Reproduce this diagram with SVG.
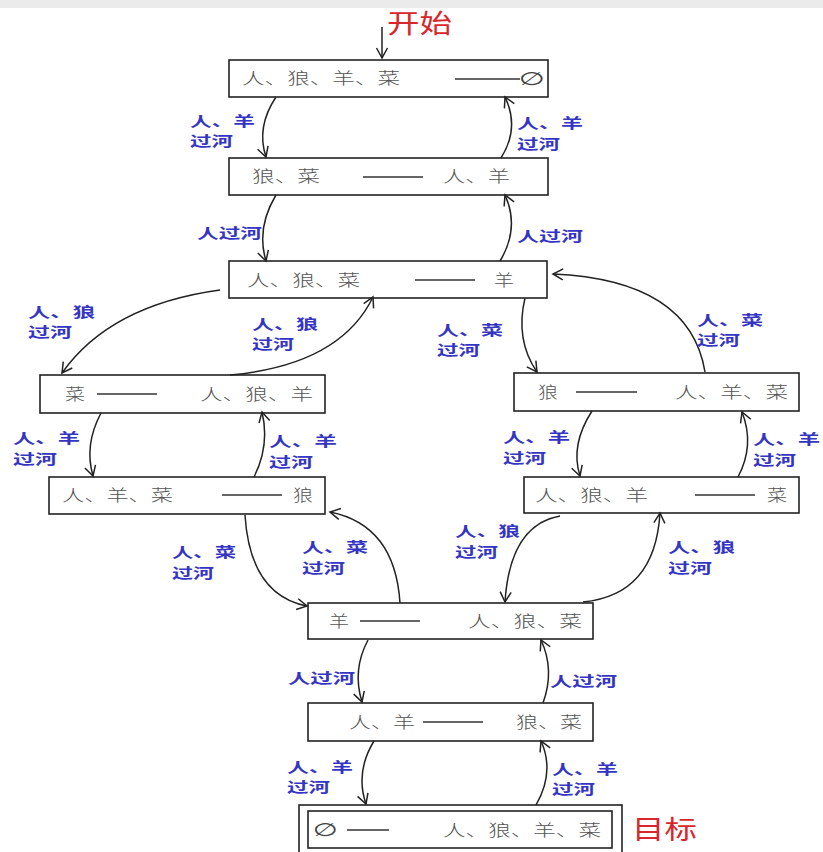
<svg xmlns="http://www.w3.org/2000/svg" width="823" height="852" viewBox="0 0 823 852">
<style>
.box{fill:#fff;stroke:#222;stroke-width:1.6}
.nt{font-family:"Noto Sans CJK SC","Noto Sans",sans-serif;font-size:16px;fill:#555;font-weight:300}
.sym{font-family:"DejaVu Sans","Noto Sans",sans-serif;font-size:18px;fill:#444}
.dash{stroke:#333;stroke-width:1.3}
.lb{font-family:"Noto Sans CJK SC","Noto Sans",sans-serif;font-size:14px;fill:#3535c4;font-weight:700}
.red{font-family:"Noto Sans CJK SC","Noto Sans",sans-serif;font-size:26px;fill:#d9262b}
.c{fill:none;stroke:#222;stroke-width:1.5;marker-end:url(#ah)}
</style>
<defs>
<marker id="ah" markerUnits="userSpaceOnUse" markerWidth="16" markerHeight="16" refX="11" refY="7" orient="auto">
<path d="M1,1.5 L11,7 L1,12.5" fill="none" stroke="#222" stroke-width="1.5"/>
</marker>
</defs>
<rect x="0" y="0" width="823" height="8" fill="#e2e2e2" opacity="0.7"/>
<text class="red" x="387" y="33" textLength="65" lengthAdjust="spacingAndGlyphs">开始</text>

<g id="n1">
<rect class="box" x="229" y="60" width="319" height="37"/>
<text class="nt" x="242" y="84" textLength="158" lengthAdjust="spacingAndGlyphs">人、狼、羊、菜</text>
<line class="dash" x1="455" y1="79" x2="520" y2="79"/>
<text class="sym" x="519" y="85" textLength="26" lengthAdjust="spacingAndGlyphs">∅</text>
</g>
<g id="n2">
<rect class="box" x="229" y="158" width="319" height="37"/>
<text class="nt" x="252" y="182" textLength="68" lengthAdjust="spacingAndGlyphs">狼、菜</text>
<line class="dash" x1="363" y1="177" x2="423" y2="177"/>
<text class="nt" x="443" y="182" textLength="67" lengthAdjust="spacingAndGlyphs">人、羊</text>
</g>
<g id="n3">
<rect class="box" x="229" y="261" width="318" height="37"/>
<text class="nt" x="247" y="286" textLength="113" lengthAdjust="spacingAndGlyphs">人、狼、菜</text>
<line class="dash" x1="415" y1="280" x2="475" y2="280"/>
<text class="nt" x="494" y="286" textLength="20" lengthAdjust="spacingAndGlyphs">羊</text>
</g>
<g id="n4">
<rect class="box" x="40" y="375" width="285" height="38"/>
<text class="nt" x="65" y="400" textLength="20" lengthAdjust="spacingAndGlyphs">菜</text>
<line class="dash" x1="97" y1="394" x2="157" y2="394"/>
<text class="nt" x="200" y="400" textLength="113" lengthAdjust="spacingAndGlyphs">人、狼、羊</text>
</g>
<g id="n5">
<rect class="box" x="514" y="373" width="285" height="38"/>
<text class="nt" x="538" y="398" textLength="20" lengthAdjust="spacingAndGlyphs">狼</text>
<line class="dash" x1="576" y1="392" x2="637" y2="392"/>
<text class="nt" x="675" y="398" textLength="113" lengthAdjust="spacingAndGlyphs">人、羊、菜</text>
</g>
<g id="n6">
<rect class="box" x="49" y="477" width="276" height="37"/>
<text class="nt" x="62" y="501" textLength="111" lengthAdjust="spacingAndGlyphs">人、羊、菜</text>
<line class="dash" x1="222" y1="495" x2="282" y2="495"/>
<text class="nt" x="293" y="501" textLength="20" lengthAdjust="spacingAndGlyphs">狼</text>
</g>
<g id="n7">
<rect class="box" x="524" y="477" width="275" height="36"/>
<text class="nt" x="535" y="501" textLength="113" lengthAdjust="spacingAndGlyphs">人、狼、羊</text>
<line class="dash" x1="695" y1="495" x2="755" y2="495"/>
<text class="nt" x="767" y="501" textLength="20" lengthAdjust="spacingAndGlyphs">菜</text>
</g>
<g id="n8">
<rect class="box" x="308" y="603" width="285" height="36"/>
<text class="nt" x="329" y="627" textLength="20" lengthAdjust="spacingAndGlyphs">羊</text>
<line class="dash" x1="360" y1="621" x2="420" y2="621"/>
<text class="nt" x="468" y="627" textLength="114" lengthAdjust="spacingAndGlyphs">人、狼、菜</text>
</g>
<g id="n9">
<rect class="box" x="308" y="703" width="285" height="38"/>
<text class="nt" x="349" y="728" textLength="66" lengthAdjust="spacingAndGlyphs">人、羊</text>
<line class="dash" x1="423" y1="722" x2="483" y2="722"/>
<text class="nt" x="516" y="728" textLength="66" lengthAdjust="spacingAndGlyphs">狼、菜</text>
</g>
<g id="n10">
<rect class="box" x="299" y="805" width="323" height="52" stroke-width="2"/>
<rect class="box" x="308" y="811" width="304" height="37"/>
<text class="sym" x="313" y="836" textLength="25" lengthAdjust="spacingAndGlyphs">∅</text>
<line class="dash" x1="347" y1="830" x2="389" y2="830"/>
<text class="nt" x="443" y="836" textLength="158" lengthAdjust="spacingAndGlyphs">人、狼、羊、菜</text>
</g>
<text class="red" x="632" y="839" textLength="65" lengthAdjust="spacingAndGlyphs">目标</text>

<g id="connectors">
<path class="c" d="M382,27 L382,58"/>
<path class="c" d="M276,97 Q256,127 266,157"/>
<path class="c" d="M501,158 Q520,128 505,97"/>
<path class="c" d="M276,195 Q256,228 266,261"/>
<path class="c" d="M500,261 Q520,228 505,195"/>
<path class="c" d="M220,290 Q110,305 62,373"/>
<path class="c" d="M230,375 Q340,365 373,297"/>
<path class="c" d="M525,298 Q515,340 537,372"/>
<path class="c" d="M705,372 Q690,280 553,274"/>
<path class="c" d="M101,413 Q84,445 93,476"/>
<path class="c" d="M254,477 Q270,445 262,412"/>
<path class="c" d="M592,411 Q570,445 580,476"/>
<path class="c" d="M738,477 Q755,445 742,412"/>
<path class="c" d="M245,515 Q250,595 307,606"/>
<path class="c" d="M400,603 Q395,525 330,512"/>
<path class="c" d="M560,516 Q510,525 505,602"/>
<path class="c" d="M583,602 Q655,595 660,513"/>
<path class="c" d="M368,640 Q352,670 362,702"/>
<path class="c" d="M543,703 Q555,670 541,640"/>
<path class="c" d="M374,741 Q355,772 366,804"/>
<path class="c" d="M536,805 Q555,772 541,741"/>
</g>

<g id="labels">
<text class="lb" x="190" y="126" textLength="65" lengthAdjust="spacingAndGlyphs">人、羊</text>
<text class="lb" x="190" y="146" textLength="43" lengthAdjust="spacingAndGlyphs">过河</text>
<text class="lb" x="517" y="128" textLength="66" lengthAdjust="spacingAndGlyphs">人、羊</text>
<text class="lb" x="517" y="149" textLength="43" lengthAdjust="spacingAndGlyphs">过河</text>
<text class="lb" x="197" y="238" textLength="65" lengthAdjust="spacingAndGlyphs">人过河</text>
<text class="lb" x="517" y="241" textLength="66" lengthAdjust="spacingAndGlyphs">人过河</text>
<text class="lb" x="28" y="317" textLength="67" lengthAdjust="spacingAndGlyphs">人、狼</text>
<text class="lb" x="28" y="337" textLength="44" lengthAdjust="spacingAndGlyphs">过河</text>
<text class="lb" x="252" y="329" textLength="66" lengthAdjust="spacingAndGlyphs">人、狼</text>
<text class="lb" x="252" y="349" textLength="42" lengthAdjust="spacingAndGlyphs">过河</text>
<text class="lb" x="437" y="335" textLength="66" lengthAdjust="spacingAndGlyphs">人、菜</text>
<text class="lb" x="437" y="355" textLength="43" lengthAdjust="spacingAndGlyphs">过河</text>
<text class="lb" x="697" y="325" textLength="66" lengthAdjust="spacingAndGlyphs">人、菜</text>
<text class="lb" x="697" y="345" textLength="43" lengthAdjust="spacingAndGlyphs">过河</text>
<text class="lb" x="13" y="443" textLength="67" lengthAdjust="spacingAndGlyphs">人、羊</text>
<text class="lb" x="13" y="464" textLength="44" lengthAdjust="spacingAndGlyphs">过河</text>
<text class="lb" x="269" y="446" textLength="68" lengthAdjust="spacingAndGlyphs">人、羊</text>
<text class="lb" x="269" y="467" textLength="44" lengthAdjust="spacingAndGlyphs">过河</text>
<text class="lb" x="503" y="442" textLength="67" lengthAdjust="spacingAndGlyphs">人、羊</text>
<text class="lb" x="503" y="463" textLength="43" lengthAdjust="spacingAndGlyphs">过河</text>
<text class="lb" x="753" y="444" textLength="67" lengthAdjust="spacingAndGlyphs">人、羊</text>
<text class="lb" x="753" y="465" textLength="43" lengthAdjust="spacingAndGlyphs">过河</text>
<text class="lb" x="172" y="557" textLength="64" lengthAdjust="spacingAndGlyphs">人、菜</text>
<text class="lb" x="172" y="578" textLength="42" lengthAdjust="spacingAndGlyphs">过河</text>
<text class="lb" x="302" y="552" textLength="66" lengthAdjust="spacingAndGlyphs">人、菜</text>
<text class="lb" x="302" y="573" textLength="43" lengthAdjust="spacingAndGlyphs">过河</text>
<text class="lb" x="455" y="536" textLength="65" lengthAdjust="spacingAndGlyphs">人、狼</text>
<text class="lb" x="455" y="557" textLength="43" lengthAdjust="spacingAndGlyphs">过河</text>
<text class="lb" x="668" y="552" textLength="67" lengthAdjust="spacingAndGlyphs">人、狼</text>
<text class="lb" x="668" y="573" textLength="44" lengthAdjust="spacingAndGlyphs">过河</text>
<text class="lb" x="288" y="683" textLength="67" lengthAdjust="spacingAndGlyphs">人过河</text>
<text class="lb" x="550" y="686" textLength="67" lengthAdjust="spacingAndGlyphs">人过河</text>
<text class="lb" x="287" y="772" textLength="66" lengthAdjust="spacingAndGlyphs">人、羊</text>
<text class="lb" x="287" y="792" textLength="43" lengthAdjust="spacingAndGlyphs">过河</text>
<text class="lb" x="552" y="774" textLength="66" lengthAdjust="spacingAndGlyphs">人、羊</text>
<text class="lb" x="552" y="794" textLength="43" lengthAdjust="spacingAndGlyphs">过河</text>
</g>
</svg>
